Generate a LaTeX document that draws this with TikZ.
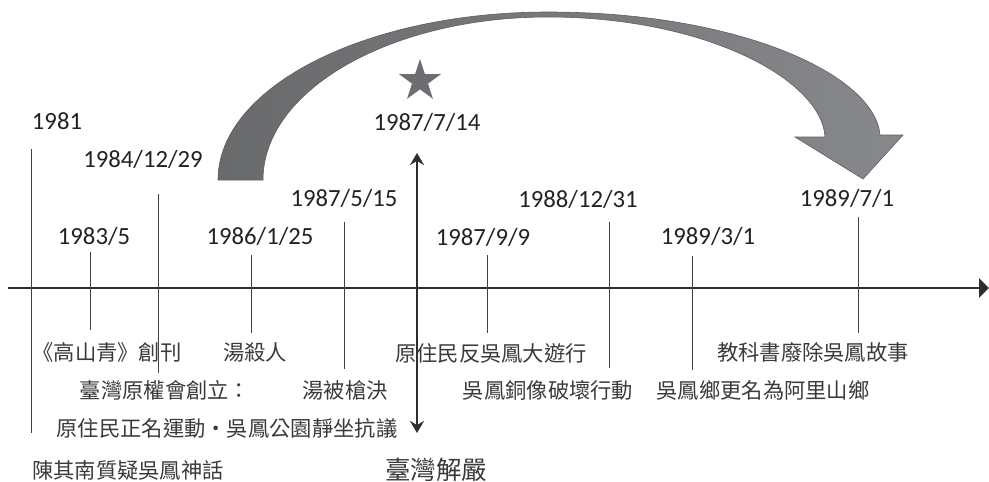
\documentclass[tikz,border=0pt]{standalone}
\usepackage{fontspec}
\setmainfont{Carlito}
\newfontfamily\cjk{Noto Sans CJK TC}
\usetikzlibrary{arrows.meta,shapes.geometric}
\definecolor{numc}{HTML}{222222}
\definecolor{evc}{HTML}{3A3A3A}
\definecolor{linec}{HTML}{404040}
\definecolor{axisc}{HTML}{2E2E2E}
\definecolor{arrL}{HTML}{696A6C}
\definecolor{arrR}{HTML}{87888B}
\definecolor{arrE}{HTML}{5E5F61}
\definecolor{starc}{HTML}{6D6E71}
\tikzset{
  datelbl/.style={font=\fontsize{24.7}{26}\selectfont, text=numc, inner sep=0pt, text height=15.6pt, text depth=0pt, anchor=center},
  evt/.style={font=\cjk\fontsize{21.3}{23}\selectfont, text=evc, inner sep=0pt, anchor=center},
  bigevt/.style={font=\cjk\fontsize{25.5}{27}\selectfont, text=evc, inner sep=0pt, anchor=center},
  tick/.style={draw=linec, line width=1pt},
  axisline/.style={draw=axisc, line width=2.5pt, -{Triangle[length=10pt,width=19pt]}},
  keyline/.style={draw=axisc, line width=2pt, {Stealth[length=12pt,width=14pt,inset=4pt]}-{Stealth[length=12pt,width=14pt,inset=4pt]}},
}
\begin{document}
\begin{tikzpicture}[x=1pt,y=-1pt]
\useasboundingbox (0,0) rectangle (989,482);

% big curved arrow
\path[left color=arrL, right color=arrR, draw=arrE, line width=0.6pt]
  (218,180) .. controls (218,87) and (366,12) .. (548,12)
  .. controls (740,12) and (875,75) .. (880,135)
  -- (903,135) -- (863,179) -- (795,137) -- (825,137)
  .. controls (822,80) and (706,17) .. (548,17)
  .. controls (391,17) and (263,90) .. (263,180) -- cycle;

% star
\node[star, star points=5, star point ratio=2.618, fill=starc, minimum size=44pt, inner sep=0pt] (star) at (420,81) {};

% axis
\coordinate (axL) at (8,288);
\coordinate (axR) at (989,288);
\draw[axisline] (axL) -- (axR);

% key double arrow (1987/7/14)
\coordinate (keyT) at (417,153);
\coordinate (keyB) at (417,433);
\draw[keyline] (keyB) -- (keyT);

% date labels
\node[datelbl] (d1981) at (57,122) {1981};
\node[datelbl] (d1984) at (143,160) {1984/12/29};
\node[datelbl] (d1983) at (94,237) {1983/5};
\node[datelbl] (d1986) at (260,237) {1986/1/25};
\node[datelbl] (d19875) at (344,199) {1987/5/15};
\node[datelbl] (d19877) at (427,123) {1987/7/14};
\node[datelbl] (d19879) at (483,238) {1987/9/9};
\node[datelbl] (d1988) at (578,200) {1988/12/31};
\node[datelbl] (d19893) at (708,237) {1989/3/1};
\node[datelbl] (d19897) at (847,199) {1989/7/1};

% event texts
\node[evt] (e1983) at (107,352) {《高山青》創刊};
\node[evt] (e1986) at (255,352) {湯殺人};
\node[evt] (e1984a) at (165,390) {臺灣原權會創立：};
\node[evt] (e19875) at (345,390) {湯被槍決};
\node[evt] (e1984b) at (227,428) {原住民正名運動・吳鳳公園靜坐抗議};
\node[evt] (e1981) at (128,470) {陳其南質疑吳鳳神話};
\node[bigevt] (e19877) at (436,470) {臺灣解嚴};
\node[evt] (e19879) at (491,353) {原住民反吳鳳大遊行};
\node[evt] (e1988) at (548,390) {吳鳳銅像破壞行動};
\node[evt] (e19893) at (763,390) {吳鳳鄉更名為阿里山鄉};
\node[evt] (e19897) at (813,352) {教科書廢除吳鳳故事};

% tick lines
\coordinate (t1981a) at (31,149);  \coordinate (t1981b) at (31,433);
\coordinate (t1983a) at (90,252);  \coordinate (t1983b) at (90,330);
\coordinate (t1984a) at (158,194); \coordinate (t1984b) at (158,373);
\coordinate (t1986a) at (251,255); \coordinate (t1986b) at (251,333);
\coordinate (t19875a) at (344,222); \coordinate (t19875b) at (344,369);
\coordinate (t19879a) at (487,255); \coordinate (t19879b) at (487,333);
\coordinate (t1988a) at (609,222); \coordinate (t1988b) at (609,368);
\coordinate (t19893a) at (692,256); \coordinate (t19893b) at (692,370);
\coordinate (t19897a) at (858,217); \coordinate (t19897b) at (858,333);
\draw[tick] (t1981a) -- (t1981b);
\draw[tick] (t1983a) -- (t1983b);
\draw[tick] (t1984a) -- (t1984b);
\draw[tick] (t1986a) -- (t1986b);
\draw[tick] (t19875a) -- (t19875b);
\draw[tick] (t19879a) -- (t19879b);
\draw[tick] (t1988a) -- (t1988b);
\draw[tick] (t19893a) -- (t19893b);
\draw[tick] (t19897a) -- (t19897b);
\end{tikzpicture}
\end{document}
